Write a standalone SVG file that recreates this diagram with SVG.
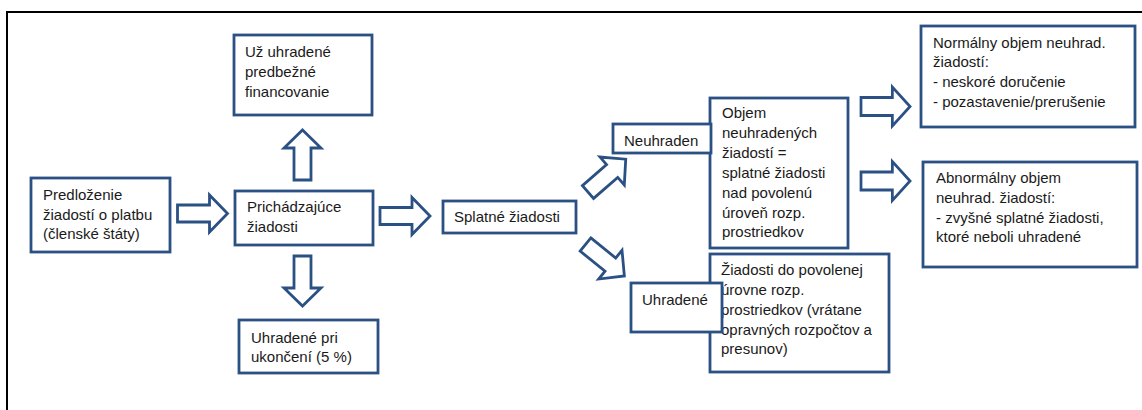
<svg xmlns="http://www.w3.org/2000/svg" width="1142" height="410" viewBox="0 0 1142 410">
<style>
.box{fill:#fff;stroke:#2B5084;stroke-width:2.8}
.arr{fill:#fff;stroke:#2B5084;stroke-width:2.8;stroke-linejoin:miter}
text{font-family:"Liberation Sans",Arial,sans-serif;font-size:15px;fill:#1a1a1a}
</style>
<defs>
<path id="a50" d="M0,-8.5 H32 V-18.5 L50,0 L32,18.5 V8.5 H0 Z"/>
</defs>
<rect width="1142" height="410" fill="#fff"/>
<path d="M7,410 V12 H1142" fill="none" stroke="#000" stroke-width="2"/>
<g id="connectors">
<use href="#a50" class="arr" transform="translate(177.5,213.5)"/>
<use href="#a50" class="arr" transform="translate(380,216)"/>
<use href="#a50" class="arr" transform="translate(302.5,180) rotate(-90)"/>
<use href="#a50" class="arr" transform="translate(302.5,256) rotate(90)"/>
<use href="#a50" class="arr" transform="translate(588,192) rotate(-41)"/>
<use href="#a50" class="arr" transform="translate(585.5,244.5) rotate(39)"/>
<use href="#a50" class="arr" transform="translate(861,106.5) scale(0.98,1.05)"/>
<use href="#a50" class="arr" transform="translate(861,181) scale(0.98,1.05)"/>
</g>
<g id="n-predlozenie">
<rect class="box" x="31" y="178" width="139" height="74"/>
<text x="43" y="200">Predloženie</text>
<text x="43" y="220">žiadostí o platbu</text>
<text x="43" y="239">(členské štáty)</text>
</g>
<g id="n-uz-uhradene">
<rect class="box" x="234" y="35" width="138" height="80"/>
<text x="245" y="57">Už uhradené</text>
<text x="245" y="77">predbežné</text>
<text x="245" y="96.5">financovanie</text>
</g>
<g id="n-prichadzajuce">
<rect class="box" x="235" y="191" width="138" height="54"/>
<text x="247" y="212">Prichádzajúce</text>
<text x="247" y="232">žiadosti</text>
</g>
<g id="n-uhradene-pri">
<rect class="box" x="239" y="320" width="139" height="53"/>
<text x="251" y="343">Uhradené pri</text>
<text x="251" y="362">ukončení (5 %)</text>
</g>
<g id="n-splatne">
<rect class="box" x="443" y="201" width="133" height="32"/>
<text x="454" y="222">Splatné žiadosti</text>
</g>
<g id="n-objem">
<rect class="box" x="710" y="98" width="138" height="150"/>
<text x="722" y="118">Objem</text>
<text x="722" y="138">neuhradených</text>
<text x="722" y="158">žiadostí =</text>
<text x="722" y="178">splatné žiadosti</text>
<text x="722" y="198">nad povolenú</text>
<text x="722" y="218">úroveň rozp.</text>
<text x="722" y="237">prostriedkov</text>
</g>
<g id="n-neuhraden">
<rect class="box" x="613" y="124" width="98" height="29"/>
<text x="624" y="146">Neuhraden</text>
</g>
<g id="n-ziadosti-do">
<rect class="box" x="710" y="254" width="179" height="118"/>
<text x="721" y="275">Žiadosti do povolenej</text>
<text x="721" y="295">úrovne rozp.</text>
<text x="721" y="315">prostriedkov (vrátane</text>
<text x="721" y="335">opravných rozpočtov a</text>
<text x="721" y="354">presunov)</text>
</g>
<g id="n-uhradene">
<rect class="box" x="631" y="283" width="91" height="49"/>
<text x="642" y="305">Uhradené</text>
</g>
<g id="n-normalny">
<rect class="box" x="921" y="26" width="214" height="101"/>
<text x="933" y="48">Normálny objem neuhrad.</text>
<text x="933" y="67">žiadostí:</text>
<text x="933" y="87">- neskoré doručenie</text>
<text x="933" y="107">- pozastavenie/prerušenie</text>
</g>
<g id="n-abnormalny">
<rect class="box" x="923" y="162" width="214" height="105"/>
<text x="936" y="183">Abnormálny objem</text>
<text x="936" y="203">neuhrad. žiadostí:</text>
<text x="936" y="223">- zvyšné splatné žiadosti,</text>
<text x="936" y="242">ktoré neboli uhradené</text>
</g>
</svg>
